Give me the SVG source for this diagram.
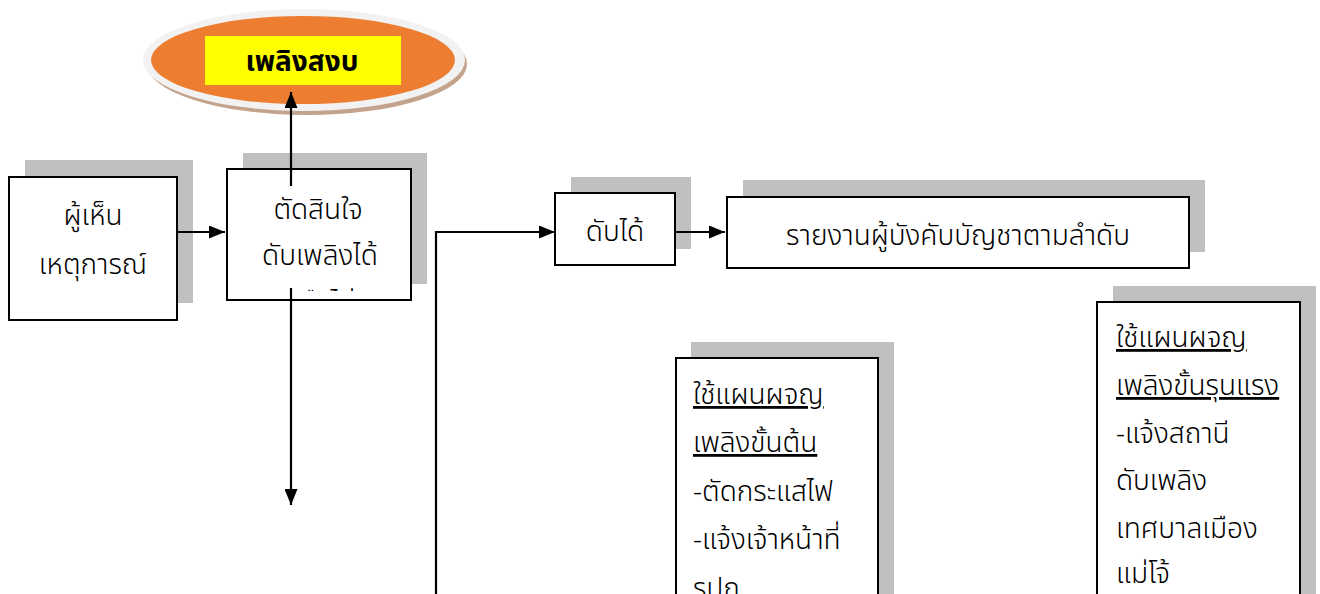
<svg xmlns="http://www.w3.org/2000/svg" width="1320" height="594" viewBox="0 0 1320 594">
<defs>
<style>
.box{fill:#fff;stroke:#000;stroke-width:2}
.sh{fill:#bfbfbf}
.t{font-family:"Noto Sans Thai","Noto Sans","DejaVu Sans",sans-serif;font-size:28px;font-weight:300;fill:#000}
.c{text-anchor:middle}
.u{text-decoration:underline}
.ln{fill:none;stroke:#000;stroke-width:2.2}
</style>
<marker id="a" viewBox="0 0 16 13" refX="16" refY="6.5" markerWidth="16" markerHeight="13" markerUnits="userSpaceOnUse" orient="auto">
<path d="M0,0 L16,6.5 L0,13 z" fill="#000"/>
</marker>
<clipPath id="cb2"><rect x="228" y="170" width="182" height="121"/></clipPath>
</defs>
<rect width="1320" height="594" fill="#fff"/>

<g id="n-peling-songb">
<ellipse cx="307" cy="64" rx="160" ry="51" fill="#c4a38c"/>
<ellipse cx="304" cy="60" rx="161" ry="51" fill="#f2f2f2"/>
<ellipse cx="303" cy="60" rx="152" ry="44" fill="#ed7d31"/>
<rect x="205" y="36" width="196" height="49" fill="#ffff00"/>
<text class="t c" x="302" y="71" font-weight="bold" font-size="24" style="font-weight:700">เพลิงสงบ</text>
</g>

<g id="n-witness">
<rect class="sh" x="25" y="160" width="168" height="143"/>
<rect class="box" x="9" y="177" width="168" height="143"/>
<text class="t c" x="93" y="225">ผู้เห็น</text>
<text class="t c" x="93" y="274">เหตุการณ์</text>
</g>

<g id="n-decide">
<rect class="sh" x="243" y="153" width="184" height="131"/>
<rect class="box" x="227" y="169" width="184" height="131"/>
<text class="t c" x="318" y="219">ตัดสินใจ</text>
<text class="t c" x="320" y="265">ดับเพลิงได้</text>
<text class="t c" x="320" y="312" clip-path="url(#cb2)">หรือไม่</text>
</g>

<g id="n-can">
<rect class="sh" x="571" y="177" width="120" height="72"/>
<rect class="box" x="555" y="193" width="120" height="72"/>
<text class="t c" x="615" y="241">ดับได้</text>
</g>

<g id="n-report">
<rect class="sh" x="743" y="180" width="462" height="72"/>
<rect class="box" x="727" y="197" width="462" height="71"/>
<text class="t c" x="958" y="245">รายงานผู้บังคับบัญชาตามลำดับ</text>
</g>

<g id="n-basic">
<rect class="sh" x="691" y="342" width="203" height="260"/>
<rect class="box" x="676" y="358" width="202" height="250"/>
<text class="t u" x="693" y="404">ใช้แผนผจญ</text>
<text class="t u" x="693" y="452">เพลิงขั้นต้น</text>
<text class="t" x="693" y="501">-ตัดกระแสไฟ</text>
<text class="t" x="693" y="549">-แจ้งเจ้าหน้าที่</text>
<text class="t" x="693" y="598">รปภ.</text>
</g>

<g id="n-severe">
<rect class="sh" x="1113" y="286" width="203" height="316"/>
<rect class="box" x="1097" y="302" width="203" height="306"/>
<text class="t u" x="1116" y="347">ใช้แผนผจญ</text>
<text class="t u" x="1116" y="395">เพลิงขั้นรุนแรง</text>
<text class="t" x="1116" y="443">-แจ้งสถานี</text>
<text class="t" x="1116" y="490">ดับเพลิง</text>
<text class="t" x="1116" y="538">เทศบาลเมือง</text>
<text class="t" x="1116" y="583">แม่โจ้</text>
</g>

<g id="connectors">
<line class="ln" x1="177" y1="232" x2="225" y2="232" marker-end="url(#a)"/>
<line class="ln" x1="291" y1="186" x2="291" y2="92" marker-end="url(#a)"/>
<line class="ln" x1="291" y1="288" x2="291" y2="505" marker-end="url(#a)"/>
<polyline class="ln" points="436,594 436,232 555,232" marker-end="url(#a)"/>
<line class="ln" x1="675" y1="232" x2="725" y2="232" marker-end="url(#a)"/>
</g>
</svg>
